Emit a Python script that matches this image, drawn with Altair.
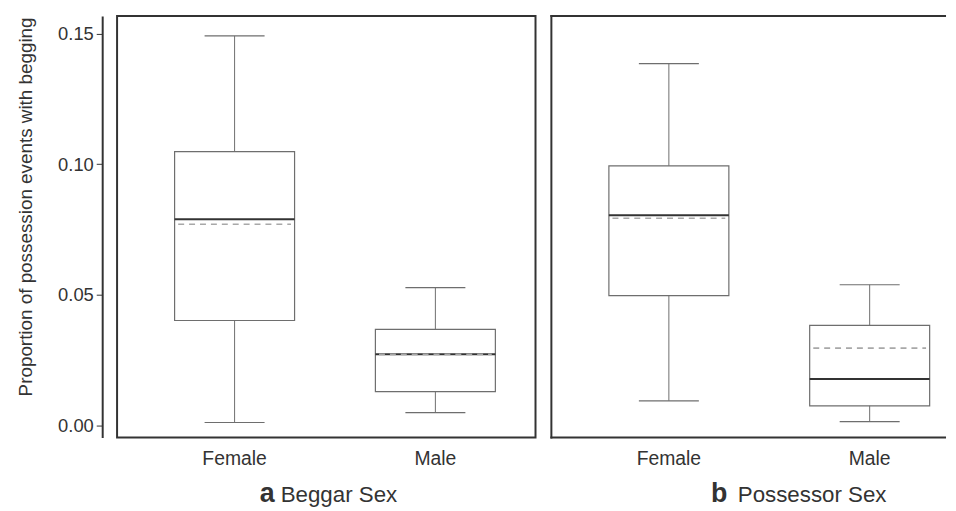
import altair as alt
import pandas as pd

panels = ["a", "a", "b", "b"]
sexes = ["Female", "Male", "Female", "Male"]
whisker_low = [0.0010, 0.0048, 0.0093, 0.0013]
q1 = [0.0401, 0.0128, 0.0496, 0.0074]
median = [0.0789, 0.0272, 0.0804, 0.0177]
mean = [0.0770, 0.0271, 0.0793, 0.0295]
q3 = [0.1048, 0.0367, 0.0994, 0.0382]
whisker_high = [0.1492, 0.0527, 0.1386, 0.0538]

panel_letters = ["a", "b"]
panel_titles = ["Beggar Sex", "Possessor Sex"]
y_title = "Proportion of possession events with begging"
y_ticks = [0.0, 0.05, 0.10, 0.15]

df = pd.DataFrame({
    "panel": panels, "sex": sexes, "lo": whisker_low, "q1": q1,
    "median": median, "mean": mean, "q3": q3, "hi": whisker_high,
})

FONT = "Liberation Sans"
H = 425
WIDTHS = [422, 396]
# band scale settings keep box centres at the same offsets in both panels
XSCALES = [
    alt.Scale(domain=["Female", "Male"], paddingInner=0.4025, paddingOuter=0.2432, align=0.589),
    alt.Scale(domain=["Female", "Male"], paddingInner=0.4025, paddingOuter=0.179, align=0.80),
]
yscale = alt.Scale(domain=[-0.00475, 0.1568], nice=False, zero=False)

xaxis = alt.Axis(title=None, domain=False, ticks=False, labelAngle=0,
                 labelFontSize=19.5, labelPadding=12, labelColor="#333",
                 labelFont=FONT, grid=False)


def make_yaxis():
    return alt.Axis(title=y_title, offset=15, domainColor="#333", domainWidth=2,
                    tickColor="#333", tickSize=6, tickWidth=1, labelFontSize=18.5,
                    labelPadding=3, values=y_ticks, format=".2f", grid=False,
                    labelColor="#333", labelFont=FONT, titleFont=FONT,
                    titleFontSize=19, titleFontWeight="normal", titleColor="#333",
                    titlePadding=22, titleY=192)


def panel(idx, show_axis):
    pid = panel_letters[idx]
    d = df[df["panel"] == pid]
    base = alt.Chart(d)
    yaxis = make_yaxis() if show_axis else None
    xscale = XSCALES[idx]
    W = WIDTHS[idx]

    def Y(field):
        return alt.Y(f"{field}:Q", scale=yscale, axis=yaxis,
                     title=y_title if show_axis else None)

    x = alt.X("sex:N", scale=xscale, axis=xaxis, title=None)
    xl = lambda b: alt.X("sex:N", scale=xscale, axis=xaxis, title=None, bandPosition=b)
    x2 = lambda b: alt.X2("sex", bandPosition=b)

    whisk_col = "#6e6e6e"
    up = base.mark_rule(color=whisk_col, strokeWidth=1).encode(x=x, y=Y("q3"), y2="hi:Q")
    down = base.mark_rule(color=whisk_col, strokeWidth=1).encode(x=x, y=Y("lo"), y2="q1:Q")
    cap_hi = base.mark_rule(color=whisk_col, strokeWidth=1.2).encode(x=xl(0.25), x2=x2(0.75), y=Y("hi"))
    cap_lo = base.mark_rule(color=whisk_col, strokeWidth=1.2).encode(x=xl(0.25), x2=x2(0.75), y=Y("lo"))
    box = base.mark_bar(fill="white", stroke="#6e6e6e", strokeWidth=1.2).encode(
        x=x, y=Y("q1"), y2="q3:Q")
    med = base.mark_rule(color="#333", strokeWidth=2).encode(x=xl(0), x2=x2(1), y=Y("median"))
    mn = base.mark_rule(color="#a8a8a8", strokeWidth=1.6, strokeDash=[6, 5]).encode(
        x=xl(0.03), x2=x2(0.97), y=Y("mean"))

    tdf = pd.DataFrame({"letter": [panel_letters[idx]], "title": [panel_titles[idx]]})
    letter_x = [144, 161][idx]
    title_x = [165, 188][idx]
    letter = alt.Chart(tdf).mark_text(align="left", baseline="alphabetic", fontSize=27,
                                      fontWeight="bold", font=FONT, color="#333").encode(
        x=alt.value(letter_x), y=alt.value(490), text="letter:N")
    ttl = alt.Chart(tdf).mark_text(align="left", baseline="alphabetic", fontSize=22.5,
                                   font=FONT, color="#333").encode(
        x=alt.value(title_x), y=alt.value(490), text="title:N")

    layers = [box, up, down, cap_hi, cap_lo, med, mn, letter, ttl]
    props = dict(width=W, height=H)
    if idx == 1:
        # frame open on the right side (panel runs off the figure edge)
        fr = alt.Chart(tdf)
        top = fr.mark_rule(color="#333", strokeWidth=2).encode(
            x=alt.value(-1), x2=alt.value(W + 2), y=alt.value(0))
        bot = fr.mark_rule(color="#333", strokeWidth=2).encode(
            x=alt.value(-1), x2=alt.value(W + 2), y=alt.value(H))
        left = fr.mark_rule(color="#333", strokeWidth=2).encode(
            x=alt.value(0), y=alt.value(-1), y2=alt.value(H + 1))
        layers += [top, bot, left]
        props["view"] = alt.ViewBackground(stroke="transparent")
    return alt.layer(*layers).properties(**props)


chart = alt.hconcat(panel(0, True), panel(1, False), spacing=12).properties(
    padding={"left": 7, "top": 3, "right": 0, "bottom": 0},
    background="white",
).configure_view(stroke="#333", strokeWidth=2)

chart.save("out.html", embed_options={"renderer": "svg", "actions": False})
